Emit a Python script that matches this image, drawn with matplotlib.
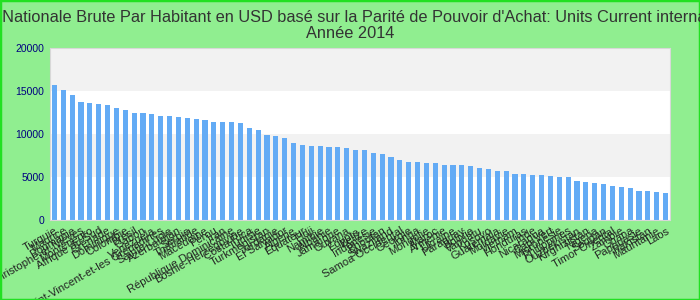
import matplotlib.pyplot as plt
from matplotlib.patches import Rectangle

# GNI per capita, PPP, 2014
countries = [
    'Turquie', 'Maurice', 'Roumanie', 'Saint-Christophe-et-Niévès', 'Monténégro',
    'Afrique du Sud', 'Grenade', 'Dominique', 'Colombie', 'Brésil',
    'Gabon', 'Venezuela', 'Saint-Vincent-et-les Grenadines', 'Sainte-Lucie', 'Azerbaïdjan',
    'Serbie', 'Thaïlande', 'Macédoine', 'Pérou', 'Iran',
    'République Dominicaine', 'Bosnie-Herzégovine', 'Costa Rica', 'Tunisie', 'Turkménistan',
    'Jordanie', 'El Salvador', 'Algérie', 'Equateur', 'Fidji',
    'Namibie', 'Albanie', 'Jamaïque', 'Guyana', 'Égypte',
    'Belize', 'Indonésie', 'Bhoutan', 'Swaziland', 'Samoa Occidental',
    'Géorgie', 'Tonga', 'Mongolie', 'Maroc', 'Arménie',
    'Ukraine', 'Paraguay', 'Bolivie', 'Vanuatu', 'Kosovo',
    'Guatemala', 'Moldavie', 'Vietnam', 'Honduras', 'Inde',
    'Nicaragua', 'Cap-Vert', 'Micronésie', 'Philippines', 'Ouzbékistan',
    'Kirghizistan', 'Nigeria', 'Soudan', 'Timor Oriental', 'Zambie',
    'Ghana', 'Papouasie', 'Pakistan', 'Mauritanie', 'Laos',
]
values = [
    15700, 15120, 14530, 13720, 13600, 13490, 13370, 13020, 12790, 12440,
    12440, 12330, 12090, 12090, 11980, 11860, 11740, 11630, 11400, 11400,
    11400, 11280, 10700, 10470, 9880, 9770, 9535, 8950, 8720, 8600,
    8600, 8490, 8490, 8370, 8140, 8140, 7790, 7670, 7330, 6980,
    6740, 6740, 6630, 6630, 6400, 6400, 6400, 6280, 6050, 5930,
    5700, 5700, 5350, 5350, 5230, 5230, 5120, 5000, 5000, 4530,
    4420, 4300, 4190, 3950, 3840, 3720, 3370, 3370, 3260, 3140,
]
yticks = [0, 5000, 10000, 15000, 20000]
title = ("Revenu Nationale Brute Par Habitant en USD basé sur la Parité de Pouvoir "
         "d'Achat: Units Current international $")
subtitle = 'Année 2014'

plt.rcParams['font.family'] = ['Liberation Sans', 'DejaVu Sans']

fig = plt.figure(figsize=(7, 3), dpi=100, facecolor='#90ee90')
fig.patches.append(Rectangle((0, 0), 1, 1, transform=fig.transFigure,
                             fill=False, edgecolor='#22e022', linewidth=2.5))
ax = fig.add_axes([50 / 700, 80 / 300, 620 / 700, 172 / 300])

# alternating background bands
for i in range(len(yticks) - 1):
    ax.axhspan(yticks[i], yticks[i + 1],
               color='white' if i % 2 == 0 else '#f2f2f2', zorder=0, lw=0)

x = list(range(len(countries)))
ax.bar(x, values, width=0.57, color='#63abf5', zorder=2)

ax.set_xlim(-0.5, len(countries) - 0.5)
ax.set_ylim(0, 20000)
ax.set_yticks(yticks)
ax.set_yticklabels([str(v) for v in yticks], fontsize=7.5, color='#000080')
ax.set_xticks(x)
ax.set_xticklabels(countries, rotation=30, ha='right', rotation_mode='anchor',
                   fontsize=8, color='#222222')
ax.tick_params(length=0, pad=4)
for s in ax.spines.values():
    s.set_color('#d8d8d8')

fig.text(0.5, 1 - 17 / 300, title, ha='center', va='center', fontsize=11.8, color='#333333')
fig.text(0.5, 1 - 33 / 300, subtitle, ha='center', va='center', fontsize=11.8, color='#333333')

fig.savefig('out.png', dpi=100, facecolor=fig.get_facecolor())
